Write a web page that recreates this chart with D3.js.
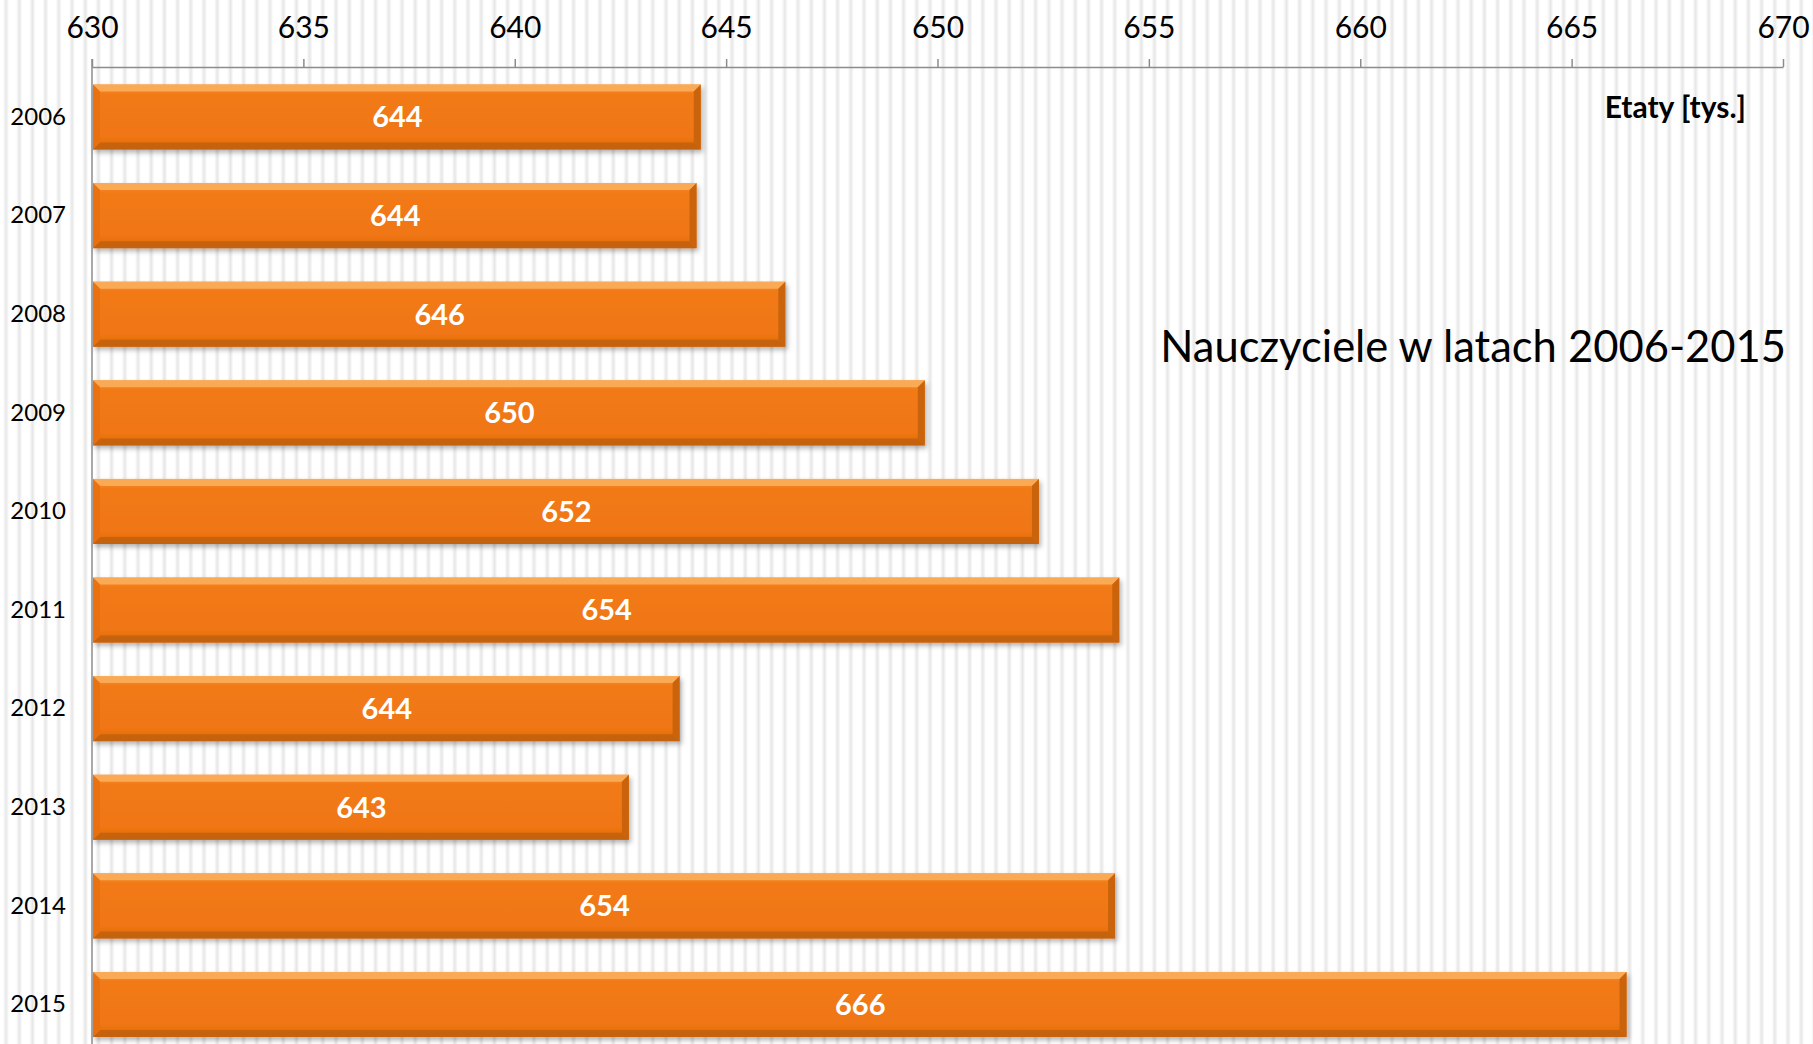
<!DOCTYPE html>
<html>
<head>
<meta charset="utf-8">
<script src="https://cdn.jsdelivr.net/npm/d3@7"></script>
<style>
  body { margin: 0; background: #fff; }
  svg { display: block; }
</style>
</head>
<body>
<svg id="chart" width="1813" height="1044"></svg>
<script>
const years = ['2006', '2007', '2008', '2009', '2010', '2011', '2012', '2013', '2014', '2015'];
const etaty = [644.4, 644.3, 646.4, 649.7, 652.4, 654.3, 643.9, 642.7, 654.2, 666.3];
const xTicks = [630, 635, 640, 645, 650, 655, 660, 665, 670];
const title = 'Nauczyciele w latach 2006-2015';
const unitLabel = 'Etaty [tys.]';

const W = 1813, H = 1044;
const FONT = 'Lato, "Open Sans", sans-serif';
const AXIS = '#8c8c8c';

const svg = d3.select('#chart');
const defs = svg.append('defs');

// striped background
const pat = defs.append('pattern')
  .attr('id', 'stripes')
  .attr('patternUnits', 'userSpaceOnUse')
  .attr('width', 13.2).attr('height', 10);
const sg = defs.append('linearGradient').attr('id', 'stripeGrad')
  .attr('x1', 0).attr('x2', 1).attr('y1', 0).attr('y2', 0);
sg.append('stop').attr('offset', '0%').attr('stop-color', '#fff');
sg.append('stop').attr('offset', '50%').attr('stop-color', '#e6e6e6');
sg.append('stop').attr('offset', '100%').attr('stop-color', '#fff');
pat.append('rect').attr('width', 13.2).attr('height', 10).attr('fill', '#fff');
pat.append('rect').attr('x', 3).attr('width', 6).attr('height', 10).attr('fill', 'url(#stripeGrad)');
svg.append('rect').attr('width', W).attr('height', H).attr('fill', 'url(#stripes)');

// bar gradient + shadow
const bg = defs.append('linearGradient').attr('id', 'barGrad')
  .attr('x1', 0).attr('x2', 0).attr('y1', 0).attr('y2', 1);
bg.append('stop').attr('offset', '0%').attr('stop-color', '#f7943a');
bg.append('stop').attr('offset', '15%').attr('stop-color', '#f27a16');
bg.append('stop').attr('offset', '80%').attr('stop-color', '#f07612');
bg.append('stop').attr('offset', '100%').attr('stop-color', '#e06a0e');

const sh = defs.append('filter').attr('id', 'shadow')
  .attr('x', '-5%').attr('y', '-20%').attr('width', '110%').attr('height', '150%');
sh.append('feDropShadow').attr('dx', 2).attr('dy', 3).attr('stdDeviation', 2.5)
  .attr('flood-color', '#000').attr('flood-opacity', 0.3);

const x = d3.scaleLinear().domain([630, 670]).range([92, 1783]);
const y = d3.scaleBand().domain(years).range([67.7, 1053.8])
  .paddingInner(0.34).paddingOuter(0.17);

// top axis
const xAxis = d3.axisTop(x).tickValues(xTicks).tickSize(8).tickPadding(21).tickSizeOuter(0);
const gx = svg.append('g').attr('transform', 'translate(0,67)').call(xAxis);
gx.select('.domain').attr('stroke', AXIS).attr('stroke-width', 1.5);
gx.selectAll('.tick line').attr('stroke', AXIS).attr('stroke-width', 1.5);
gx.selectAll('.tick text').attr('font-family', FONT).attr('font-size', 30).attr('fill', '#000');

// left axis
const yAxis = d3.axisLeft(y).tickSize(0).tickPadding(26);
const gy = svg.append('g').attr('transform', 'translate(92,0)').call(yAxis);
gy.select('.domain').remove();
gy.selectAll('.tick text').attr('font-family', FONT).attr('font-size', 24).attr('fill', '#000');
svg.append('line').attr('x1', 92).attr('x2', 92).attr('y1', 59).attr('y2', H)
  .attr('stroke', AXIS).attr('stroke-width', 1.5);

// bars
const data = years.map((yr, i) => ({ year: yr, v: etaty[i] }));
const bh = y.bandwidth();
const bev = 7;

const bars = svg.append('g').selectAll('g.bar').data(data).enter().append('g')
  .attr('class', 'bar')
  .attr('transform', d => `translate(${x(630) + 1},${y(d.year)})`);

bars.append('rect')
  .attr('width', d => x(d.v) - x(630) - 1)
  .attr('height', bh)
  .attr('fill', 'url(#barGrad)')
  .attr('filter', 'url(#shadow)');

// bevel: top, bottom, left, right
bars.append('path')
  .attr('d', d => { const w = x(d.v) - x(630) - 1; return `M0,0L${w},0L${w - bev},${bev}L${bev},${bev}Z`; })
  .attr('fill', '#fbad5a').attr('opacity', 0.9);
bars.append('path')
  .attr('d', d => { const w = x(d.v) - x(630) - 1; return `M0,${bh}L${w},${bh}L${w - bev},${bh - bev}L${bev},${bh - bev}Z`; })
  .attr('fill', '#c0600f').attr('opacity', 0.85);
bars.append('path')
  .attr('d', `M0,0L${bev},${bev}L${bev},${bh - bev}L0,${bh}Z`)
  .attr('fill', '#e8700f').attr('opacity', 0.9);
bars.append('path')
  .attr('d', d => { const w = x(d.v) - x(630) - 1; return `M${w},0L${w - bev},${bev}L${w - bev},${bh - bev}L${w},${bh}Z`; })
  .attr('fill', '#c9640c');

bars.append('text')
  .attr('x', d => (x(d.v) - x(630)) / 2)
  .attr('y', bh / 2)
  .attr('dy', '0.36em')
  .attr('text-anchor', 'middle')
  .attr('font-family', FONT).attr('font-weight', 'bold').attr('font-size', 29)
  .attr('fill', '#fff')
  .text(d => Math.round(d.v));

// unit label + title
svg.append('text')
  .attr('x', 1746).attr('y', 118)
  .attr('text-anchor', 'end')
  .attr('font-family', FONT).attr('font-weight', 'bold').attr('font-size', 30)
  .text(unitLabel);

svg.append('text')
  .attr('x', 1786).attr('y', 362)
  .attr('text-anchor', 'end')
  .attr('font-family', FONT).attr('font-size', 43.5)
  .text(title);
</script>
</body>
</html>
